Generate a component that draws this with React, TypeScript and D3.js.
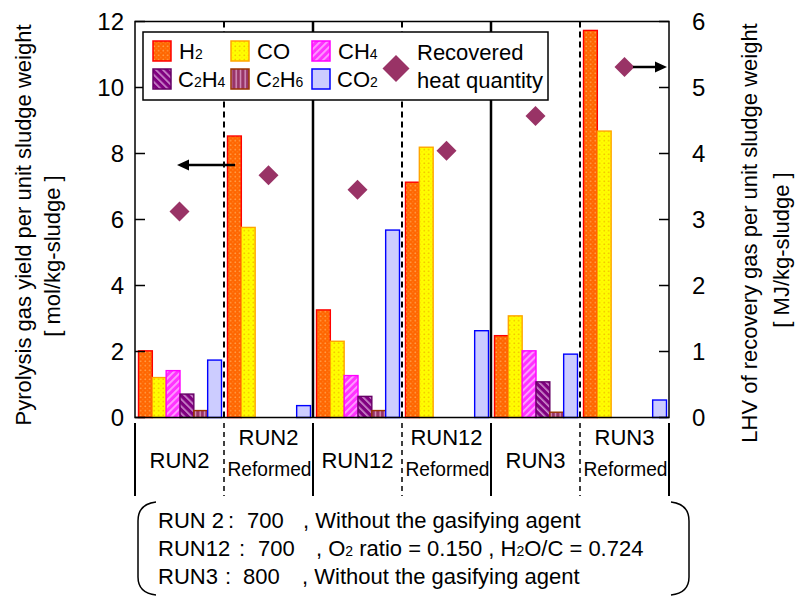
import React from "react";
import * as d3 from "d3";

const categories = ["RUN2", "RUN2 Reformed", "RUN12", "RUN12 Reformed", "RUN3", "RUN3 Reformed"];
const catLine1 = ["RUN2", "RUN2", "RUN12", "RUN12", "RUN3", "RUN3"];
const catLine2 = ["", "Reformed", "", "Reformed", "", "Reformed"];
const gases = ["H2", "CO", "CH4", "C2H4", "C2H6", "CO2"];
const H2 = [2.02, 8.53, 3.26, 7.13, 2.48, 11.73];
const CO = [1.21, 5.76, 2.31, 8.19, 3.08, 8.68];
const CH4 = [1.42, 0, 1.27, 0, 2.02, 0];
const C2H4 = [0.71, 0, 0.64, 0, 1.08, 0];
const C2H6 = [0.21, 0, 0.21, 0, 0.16, 0];
const CO2 = [1.74, 0.36, 5.68, 2.63, 1.92, 0.53];
const heat = [3.12, 3.67, 3.45, 4.04, 4.57, 5.31];
const leftTicks = [0, 2, 4, 6, 8, 10, 12];
const rightTicks = [0, 1, 2, 3, 4, 5, 6];

const series = [H2, CO, CH4, C2H4, C2H6, CO2];
const fills = ["url(#pH2)", "url(#pCO)", "url(#pCH4)", "url(#pC2H4)", "url(#pC2H6)", "#CCCCFF"];
const strokes = ["#FF0000", "#FFA500", "#FF00FF", "#660066", "#993300", "#0000FF"];

const FONT = "'Liberation Sans', Arial, sans-serif";

const L = 135, R = 669, T = 21.5, B = 417.5;
const FS = 22;
const SUB = 14;

export default function App() {
  const x = d3.scaleBand<string>().domain(categories).range([L, R]).paddingInner(0).paddingOuter(0);
  const gw = x.bandwidth();
  const xi = d3.scaleBand<string>().domain(gases).range([3.5, gw - 2.5]).padding(0);
  const yL = d3.scaleLinear().domain([0, 12]).range([B, T]);
  const yR = d3.scaleLinear().domain([0, 6]).range([B, T]);
  const bounds = d3.range(categories.length + 1).map((i) => L + i * gw);

  const diamond = (cx: number, cy: number, r: number) =>
    `M${cx},${cy - r}L${cx + r},${cy}L${cx},${cy + r}L${cx - r},${cy}Z`;

  const legendItems = [
    { fill: fills[0], stroke: strokes[0], x: 153, y: 41, label: ["H", "2"] },
    { fill: fills[1], stroke: strokes[1], x: 231, y: 41, label: ["CO"] },
    { fill: fills[2], stroke: strokes[2], x: 312, y: 41, label: ["CH", "4"] },
    { fill: fills[3], stroke: strokes[3], x: 153, y: 69, label: ["C", "2", "H", "4"] },
    { fill: fills[4], stroke: strokes[4], x: 231, y: 69, label: ["C", "2", "H", "6"] },
    { fill: fills[5], stroke: strokes[5], x: 312, y: 69, label: ["CO", "2"] },
  ];

  const renderChem = (parts: string[]) =>
    parts.map((p, i) =>
      i % 2 === 0 ? (
        <tspan key={i} fontSize={FS}>{p}</tspan>
      ) : (
        <tspan key={i} fontSize={SUB}>{p}</tspan>
      )
    );

  return (
    <svg width={797} height={596} style={{ position: "absolute", left: 0, top: 0 }} fontFamily={FONT}>
      <defs>
        <pattern id="pH2" width="4.5" height="4.5" patternUnits="userSpaceOnUse">
          <rect width="4.5" height="4.5" fill="#FF6600" />
          <circle cx="1.2" cy="1.2" r="0.8" fill="#FFB060" />
          <circle cx="3.45" cy="3.45" r="0.6" fill="#FF9940" />
        </pattern>
        <pattern id="pCO" width="4.5" height="4.5" patternUnits="userSpaceOnUse">
          <rect width="4.5" height="4.5" fill="#FFFF00" />
          <circle cx="1.2" cy="1.2" r="0.8" fill="#F0B000" />
          <circle cx="3.45" cy="3.45" r="0.6" fill="#FFD000" />
        </pattern>
        <pattern id="pCH4" width="5" height="5" patternUnits="userSpaceOnUse" patternTransform="rotate(45)">
          <rect width="5" height="5" fill="#FF33FF" />
          <rect width="1.8" height="5" fill="#FFA0FF" />
        </pattern>
        <pattern id="pC2H4" width="5" height="5" patternUnits="userSpaceOnUse" patternTransform="rotate(-45)">
          <rect width="5" height="5" fill="#800080" />
          <rect width="1.6" height="5" fill="#D090D0" />
        </pattern>
        <pattern id="pC2H6" width="4.5" height="4.5" patternUnits="userSpaceOnUse">
          <rect width="4.5" height="4.5" fill="#993366" />
          <rect x="1.5" width="1.3" height="4.5" fill="#DDA0C8" />
        </pattern>
      </defs>

      {/* bars */}
      {categories.map((c, ci) =>
        series.map((s, si) => {
          const v = s[ci];
          if (!v) return null;
          const bx = (x(c) as number) + (xi(gases[si]) as number);
          return (
            <rect
              key={`${ci}-${si}`}
              x={bx}
              y={yL(v)}
              width={xi.bandwidth()}
              height={B - yL(v)}
              fill={fills[si]}
              stroke={strokes[si]}
              strokeWidth={1.4}
            />
          );
        })
      )}

      {/* dividers in plot */}
      {bounds.slice(1, -1).map((bx, i) =>
        (i + 1) % 2 === 1 ? (
          <line key={i} x1={bx} x2={bx} y1={T} y2={B} stroke="#000" strokeWidth={2} strokeDasharray="6,4" />
        ) : (
          <line key={i} x1={bx} x2={bx} y1={T} y2={B} stroke="#000" strokeWidth={2.5} />
        )
      )}

      {/* frame */}
      <rect x={L} y={T} width={R - L} height={B - T} fill="none" stroke="#000" strokeWidth={1.5} />

      {/* ticks */}
      {leftTicks.map((t) => (
        <g key={`l${t}`}>
          <line x1={L} x2={L + 10} y1={yL(t)} y2={yL(t)} stroke="#000" strokeWidth={1.5} />
          <text x={124} y={yL(t)} fontSize={24} textAnchor="end" dominantBaseline="central">{t}</text>
        </g>
      ))}
      {rightTicks.map((t) => (
        <g key={`r${t}`}>
          <line x1={R - 10} x2={R} y1={yR(t)} y2={yR(t)} stroke="#000" strokeWidth={1.5} />
          <text x={692} y={yR(t)} fontSize={24} textAnchor="start" dominantBaseline="central">{t}</text>
        </g>
      ))}

      {/* diamonds */}
      {heat.map((h, i) => (
        <path key={`d${i}`} d={diamond((x(categories[i]) as number) + gw / 2, yR(h), 10)} fill="#993366" />
      ))}

      {/* arrows */}
      <line x1={235} x2={186} y1={165} y2={165} stroke="#000" strokeWidth={2.5} />
      <path d="M177,165L189,159.5L189,170.5Z" fill="#000" />
      <line x1={633} x2={657} y1={67} y2={67} stroke="#000" strokeWidth={2.5} />
      <path d="M667,67L655,61.5L655,72.5Z" fill="#000" />

      {/* legend */}
      <rect x={143} y={32} width={405} height={68} fill="#fff" stroke="#000" strokeWidth={1.5} />
      {legendItems.map((it, i) => (
        <g key={`lg${i}`}>
          <rect x={it.x} y={it.y} width={18} height={20} fill={it.fill} stroke={it.stroke} strokeWidth={1.5} />
          <text x={it.x + (i < 3 ? 26 : 25)} y={it.y + 17.5}>
            {renderChem(it.label)}
          </text>
        </g>
      ))}
      <path d={diamond(396, 68.5, 13.5)} fill="#993366" />
      <text x={417} y={60} fontSize={FS}>Recovered</text>
      <text x={417} y={88} fontSize={FS}>heat quantity</text>

      {/* category area */}
      {bounds.map((bx, i) =>
        i % 2 === 1 ? (
          <line key={`cb${i}`} x1={bx} x2={bx} y1={423} y2={496} stroke="#000" strokeWidth={1.5} strokeDasharray="5,4" />
        ) : (
          <line key={`cb${i}`} x1={bx} x2={bx} y1={423} y2={496} stroke="#000" strokeWidth={2} />
        )
      )}
      {categories.map((c, i) => {
        const cx = (x(c) as number) + gw / 2;
        return catLine2[i] ? (
          <g key={`cl${i}`}>
            <text x={cx} y={445} fontSize={FS} textAnchor="middle">{catLine1[i]}</text>
            <text x={cx + 1} y={476} fontSize={20} textAnchor="middle" textLength={84} lengthAdjust="spacingAndGlyphs">
              {catLine2[i]}
            </text>
          </g>
        ) : (
          <text key={`cl${i}`} x={cx} y={468} fontSize={FS} textAnchor="middle">{catLine1[i]}</text>
        );
      })}

      {/* axis titles */}
      <text transform="translate(31,225) rotate(-90)" fontSize={FS} textAnchor="middle">
        Pyrolysis gas yield per unit sludge weight
      </text>
      <text transform="translate(60,256) rotate(-90)" fontSize={FS} textAnchor="middle">
        [ mol/kg-sludge ]
      </text>
      <text transform="translate(757,233) rotate(-90)" fontSize={FS} textAnchor="middle">
        LHV of recovery gas per unit sludge weight
      </text>
      <text transform="translate(789,250) rotate(-90)" fontSize={FS} textAnchor="middle">
        [ MJ/kg-sludge ]
      </text>

      {/* note box */}
      <path d="M156,502 Q138,504 138,521 L138,577 Q138,593 156,595" fill="none" stroke="#000" strokeWidth={1.5} />
      <path d="M671,502 Q689,504 689,521 L689,577 Q689,593 671,595" fill="none" stroke="#000" strokeWidth={1.5} />
      <g fontSize={FS}>
        <text x={158} y={528}>RUN 2</text>
        <text x={228} y={528}>:</text>
        <text x={247} y={528}>700</text>
        <text x={303} y={528}>, Without the gasifying agent</text>
        <text x={158} y={556}>RUN12</text>
        <text x={239} y={556}>:</text>
        <text x={258} y={556}>700</text>
        <text x={316} y={556}>
          , O<tspan fontSize={SUB}>2</tspan> ratio = 0.150 , H<tspan fontSize={SUB}>2</tspan>O/C = 0.724
        </text>
        <text x={158} y={584}>RUN3</text>
        <text x={225} y={584}>:</text>
        <text x={243} y={584}>800</text>
        <text x={302} y={584}>, Without the gasifying agent</text>
      </g>
    </svg>
  );
}
